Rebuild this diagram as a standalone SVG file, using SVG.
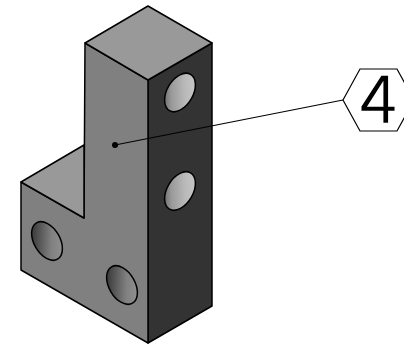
<svg xmlns="http://www.w3.org/2000/svg" width="404" height="345" viewBox="0 0 404 345">
<defs>
<linearGradient id="holeR" x1="0" y1="1" x2="1" y2="0"><stop offset="0" stop-color="#4a4a4a"/><stop offset=".3" stop-color="#999"/><stop offset=".6" stop-color="#b8b8b8"/><stop offset="1" stop-color="#cfcfcf"/></linearGradient>
<linearGradient id="holeL" x1="0" y1="0" x2="1" y2="1"><stop offset="0" stop-color="#222"/><stop offset=".6" stop-color="#808080"/><stop offset="1" stop-color="#999"/></linearGradient>
</defs>
<style>
.e{stroke:#000;stroke-width:1.5;stroke-linejoin:round}
.top{fill:#999}.front{fill:#808080}.side{fill:#333}
.lead{stroke:#000;stroke-width:1.2;fill:none}
.hex{fill:#fff;stroke:#000;stroke-width:1.2}
</style>
<g id="body">
<path class="e side" d="M148 80L212 43V306L148 343Z"/>
<path class="e front" d="M85 43L148 80V343L21 270V182L84 218Z"/>
<path class="e top" d="M148 6L212 43L148 80L85 43Z"/>
<path class="e top" d="M21 182L84 145V218Z"/>
</g>
<g id="holes">
<ellipse class="e" fill="url(#holeR)" cx="180" cy="92.500" rx="13" ry="21" transform="rotate(30 180 92.500)"/>
<ellipse class="e" fill="url(#holeR)" cx="180" cy="191" rx="13" ry="21" transform="rotate(30 180 191)"/>
<ellipse class="e" fill="url(#holeL)" cx="47" cy="241" rx="13" ry="21" transform="rotate(-30 47 241)"/>
<ellipse class="e" fill="url(#holeL)" cx="122" cy="285" rx="13" ry="21" transform="rotate(-30 122 285)"/>
</g>
<g id="connectors">
<path class="lead" d="M115 145L343 100"/>
<circle cx="115" cy="145" r="3" fill="#000"/>
</g>
<g id="balloon">
<path class="hex" d="M343 100L360 69H397L414 100L397 131H360Z"/>
<text x="379" y="122" text-anchor="middle" font-family="DejaVu Sans, sans-serif" font-weight="200" font-size="62" fill="#000" stroke="#000" stroke-width="1.6">4</text>
</g>
</svg>
